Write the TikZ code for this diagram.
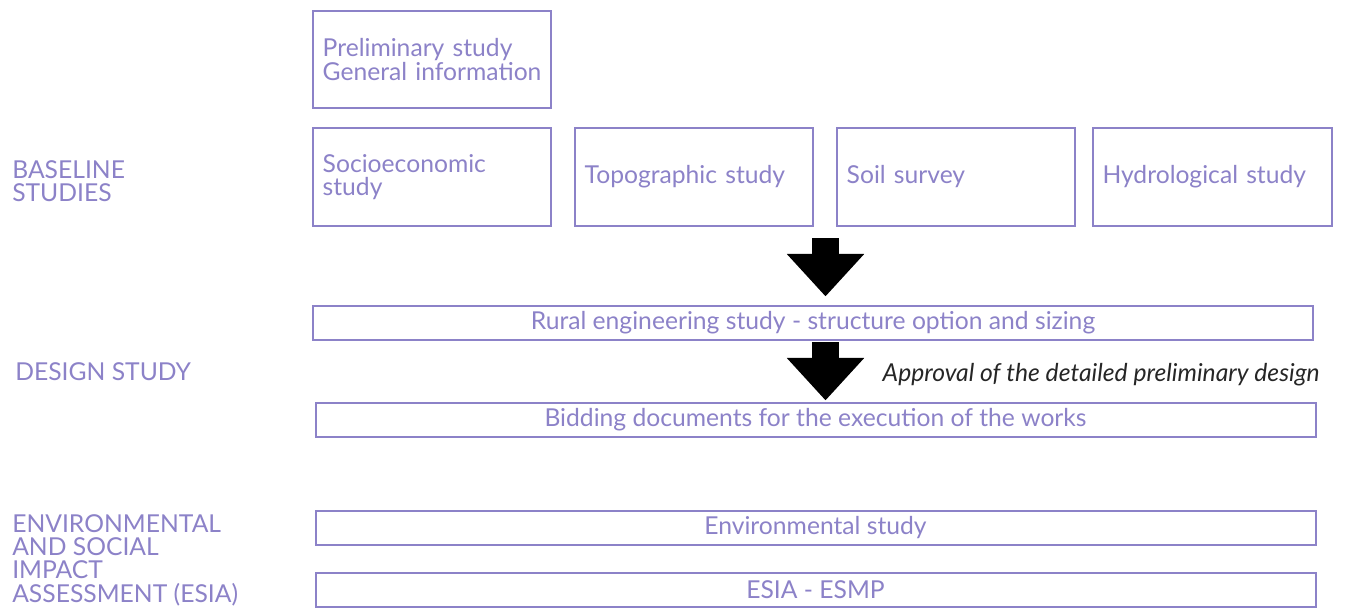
\documentclass[tikz,border=0pt]{standalone}
\usepackage{fontspec}
\setmainfont{Lato}
\usepackage{tikz}
\usetikzlibrary{shapes.arrows}
\definecolor{lavender}{RGB}{140,130,200}

\begin{document}
\begin{tikzpicture}[x=0.75pt,y=-0.75pt]
    %
    % `study' is used for the boxes, `phase' for the labels on the left.
    % `bigarrow' is used for the black arrows between the rows.
    \tikzstyle{study} = [draw=lavender,line width=1.5pt,text=lavender,align=left,inner xsep=7pt,font=\fontsize{18.5pt}{17.5pt}\selectfont]
    \tikzstyle{wide} = [draw=lavender,line width=1.5pt,text=lavender,minimum width=750pt,inner ysep=2pt,font=\fontsize{18.5pt}{17.5pt}\selectfont]
    \tikzstyle{phase} = [text=lavender,align=left,anchor=west,inner sep=0pt,font=\fontsize{18.5pt}{17.5pt}\selectfont]
    \tikzstyle{bigarrow} = [fill=black,shape=single arrow,rotate=-90,minimum height=43.5pt,minimum width=57.75pt,single arrow head extend=19.1pt,single arrow tip angle=85,inner xsep=0pt,inner ysep=9.75pt]
    \useasboundingbox (0,0) rectangle (1349,614);
    %
    % Phases
    \node[phase] (base) at (12,181) {BASELINE\\STUDIES};
    \node[phase] (design) at (15,372) {DESIGN STUDY};
    \node[phase] (esia) at (12,560) {ENVIRONMENTAL\\AND SOCIAL\\IMPACT\\ASSESSMENT (ESIA)};
    %
    % Baseline studies
    \node[study,minimum width=178.5pt,minimum height=72.75pt,text width=164pt] (prelim) at (432,59.5) {Preliminary study\\\mbox{General information}};
    \node[study,minimum width=178.5pt,minimum height=73.5pt,text width=164pt] (socio) at (432,177) {Socioeconomic\\study};
    \node[study,minimum width=178.5pt,minimum height=73.5pt,text width=164pt] (topo) at (694,177) {Topographic study};
    \node[study,minimum width=178.5pt,minimum height=73.5pt,text width=164pt] (soil) at (956,177) {Soil survey};
    \node[study,minimum width=179.25pt,minimum height=73.5pt,text width=165pt] (hydro) at (1212.5,177) {Hydrological study};
    %
    % Design study
    \node[bigarrow] (arr1) at (825.5,260) {};
    \node[wide,minimum height=25.5pt] (rural) at (813,323) {Rural engineering study - structure option and sizing};
    \node[bigarrow] (arr2) at (825.5,364) {};
    \node[anchor=west,font=\fontsize{18.5pt}{17.5pt}\selectfont\itshape,text=black!85] (approval) at (878,375) {Approval of the detailed preliminary design};
    \node[wide,minimum height=25.5pt] (bidding) at (815.5,420) {Bidding documents for the execution of the works};
    %
    % ESIA
    \node[wide,minimum height=25.5pt] (env) at (815.5,528) {Environmental study};
    \node[wide,minimum height=25.5pt] (esmp) at (815.5,590) {ESIA - ESMP};
    %
\end{tikzpicture}
\end{document}
